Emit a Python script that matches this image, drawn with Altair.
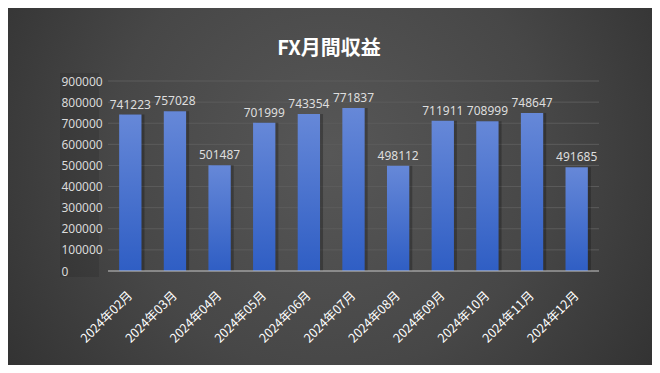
import altair as alt
import pandas as pd

months = ["2024年02月", "2024年03月", "2024年04月", "2024年05月", "2024年06月", "2024年07月",
          "2024年08月", "2024年09月", "2024年10月", "2024年11月", "2024年12月"]
values = [741223, 757028, 501487, 701999, 743354, 771837, 498112, 711911, 708999, 748647, 491685]
grid_values = [100000, 200000, 300000, 400000, 500000, 600000, 700000, 800000, 900000]
title_text = "FX月間収益"

df = pd.DataFrame({"month": months, "value": values})
gdf = pd.DataFrame({"value": grid_values})
one = pd.DataFrame({"a": [0]})
tdf = pd.DataFrame({"t": [title_text]})

W, H = 491, 190
PL, PT = 100, 73
TOTW, TOTH = 644, 357

yaxis = alt.Axis(values=[0] + grid_values, format="d", labelAlign="left",
                 labelPadding=47, labelColor="#d9d9d9", labelFontSize=12,
                 labelFont="Noto Sans", domain=False, ticks=False, grid=False,
                 zindex=1, labelOverlap=False)
yscale = alt.Scale(domain=[0, 900000], nice=False)

xs = alt.X("month:N", sort=months, title=None,
           scale=alt.Scale(paddingInner=0.5, paddingOuter=0.25),
           axis=alt.Axis(labelAngle=-45, labelAlign="right", labelBaseline="middle",
                         labelPadding=22, labelColor="#ffffff", labelFontSize=12.5,
                         labelFont="Noto Sans CJK JP", domain=False, ticks=False,
                         grid=False, zindex=1, labelOverlap=False))
ys = alt.Y("value:Q", title=None, scale=yscale, axis=yaxis)

bg = alt.Chart(one).mark_rect(
    fill=alt.RadialGradient(
        gradient="radial",
        stops=[alt.GradientStop(color="#575757", offset=0),
               alt.GradientStop(color="#474747", offset=0.45),
               alt.GradientStop(color="#272727", offset=1)],
        x1=0.5, y1=0.45, r1=0, x2=0.5, y2=0.45, r2=0.75),
).encode(x=alt.value(-PL), x2=alt.value(TOTW - PL), y=alt.value(-PT), y2=alt.value(TOTH - PT))

labelbox = alt.Chart(one).mark_rect(color="#000000", opacity=0.1).encode(
    x=alt.value(-48), x2=alt.value(-9), y=alt.value(-8), y2=alt.value(H + 6))

grid = alt.Chart(gdf).mark_rule(color="#5c5c5c", strokeWidth=1).encode(
    y=alt.Y("value:Q", title=None, scale=yscale, axis=yaxis),
    x=alt.value(0), x2=alt.value(W))

shadow = alt.Chart(df).mark_bar(color="#000000", opacity=0.25, xOffset=3).encode(x=xs, y=ys)

bars = alt.Chart(df).mark_bar(
    color=alt.LinearGradient(
        gradient="linear",
        stops=[alt.GradientStop(color="#6688d8", offset=0),
               alt.GradientStop(color="#2f5ec4", offset=1)],
        x1=0, y1=0, x2=0, y2=1),
).encode(x=xs, y=ys)

base_line = alt.Chart(one).mark_rule(color="#c8c8c8", strokeWidth=1.2).encode(
    x=alt.value(0), x2=alt.value(W), y=alt.value(H))

labels = alt.Chart(df).mark_text(
    baseline="alphabetic", dy=-6, fontSize=12, font="Noto Sans", color="#dedede"
).encode(x=xs, y=ys, text=alt.Text("value:Q", format="d"))

title = alt.Chart(tdf).mark_text(
    fontSize=20, fontWeight="bold", color="#ffffff", font="Noto Sans CJK JP",
    align="center", baseline="middle"
).encode(x=alt.value(329 - 8 - PL), y=alt.value(49 - 8 - PT), text="t:N")

chart = alt.layer(bg, labelbox, grid, shadow, bars, base_line, labels, title).properties(
    width=W, height=H,
    autosize=alt.AutoSizeParams(type="none"),
    padding={"left": PL, "top": PT, "right": TOTW - PL - W, "bottom": TOTH - PT - H},
    background="#333333",
).configure_view(stroke=None)

chart.save("out.html", embed_options={"renderer": "svg", "actions": False})
